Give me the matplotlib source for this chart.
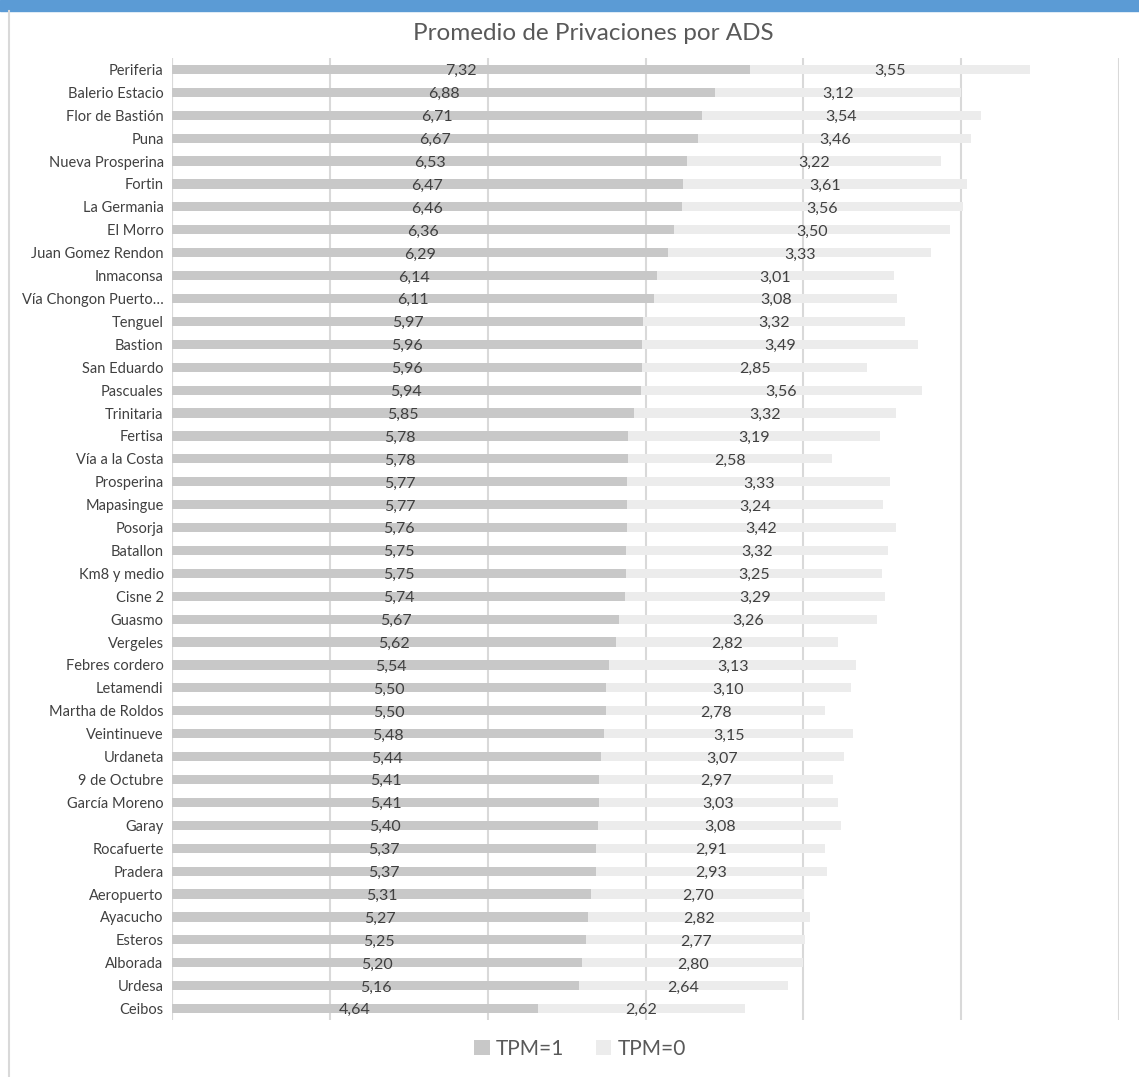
import matplotlib.pyplot as plt
import matplotlib.lines as mlines
import numpy as np

plt.rcParams['font.family'] = ['Lato', 'DejaVu Sans']

ads = ['Periferia', 'Balerio Estacio', 'Flor de Bastión', 'Puna', 'Nueva Prosperina',
       'Fortin', 'La Germania', 'El Morro', 'Juan Gomez Rendon', 'Inmaconsa',
       'Vía Chongon Puerto…', 'Tenguel', 'Bastion', 'San Eduardo', 'Pascuales',
       'Trinitaria', 'Fertisa', 'Vía a la Costa', 'Prosperina', 'Mapasingue',
       'Posorja', 'Batallon', 'Km8 y medio', 'Cisne 2', 'Guasmo', 'Vergeles',
       'Febres cordero', 'Letamendi', 'Martha de Roldos', 'Veintinueve', 'Urdaneta',
       '9 de Octubre', 'García Moreno', 'Garay', 'Rocafuerte', 'Pradera',
       'Aeropuerto', 'Ayacucho', 'Esteros', 'Alborada', 'Urdesa', 'Ceibos']
tpm1 = [7.32, 6.88, 6.71, 6.67, 6.53, 6.47, 6.46, 6.36, 6.29, 6.14, 6.11, 5.97,
        5.96, 5.96, 5.94, 5.85, 5.78, 5.78, 5.77, 5.77, 5.76, 5.75, 5.75, 5.74,
        5.67, 5.62, 5.54, 5.50, 5.50, 5.48, 5.44, 5.41, 5.41, 5.40, 5.37, 5.37,
        5.31, 5.27, 5.25, 5.20, 5.16, 4.64]
tpm0 = [3.55, 3.12, 3.54, 3.46, 3.22, 3.61, 3.56, 3.50, 3.33, 3.01, 3.08, 3.32,
        3.49, 2.85, 3.56, 3.32, 3.19, 2.58, 3.33, 3.24, 3.42, 3.32, 3.25, 3.29,
        3.26, 2.82, 3.13, 3.10, 2.78, 3.15, 3.07, 2.97, 3.03, 3.08, 2.91, 2.93,
        2.70, 2.82, 2.77, 2.80, 2.64, 2.62]

dark = '#c8c8c8'
light = '#ececec'
txt = '#404040'

fig = plt.figure(figsize=(11.39, 10.77), dpi=100)
ax = fig.add_axes([172/1139, 1 - 1020/1077, (1119-172)/1139, (1020-58)/1077])

y = np.arange(len(ads))
b1 = ax.barh(y, tpm1, height=0.4, color=dark, label='TPM=1', zorder=2)
b2 = ax.barh(y, tpm0, left=tpm1, height=0.4, color=light, label='TPM=0', zorder=2)

for i in range(len(ads)):
    ax.text(tpm1[i] / 2, y[i] + 0.08, f'{tpm1[i]:.2f}'.replace('.', ','),
            ha='center', va='center', fontsize=11.5, color=txt, zorder=3)
    ax.text(tpm1[i] + tpm0[i] / 2, y[i] + 0.08, f'{tpm0[i]:.2f}'.replace('.', ','),
            ha='center', va='center', fontsize=11.5, color=txt, zorder=3)

ax.set_xlim(0, 12)
ax.set_ylim(len(ads) - 0.5, -0.5)
ax.set_xticks(np.arange(0, 13, 2))
ax.set_xticklabels([])
ax.tick_params(axis='x', length=0)
ax.tick_params(axis='y', length=0, labelsize=10.5, labelcolor=txt, pad=6)
ax.set_yticks(y)
ax.set_yticklabels(ads)
ax.grid(axis='x', color='#d9d9d9', linewidth=1.5, zorder=0)
for s in ax.spines.values():
    s.set_visible(False)
ax.axvline(0, color='#d9d9d9', linewidth=1.5, zorder=1)

fig.text(593/1139, 1 - 33/1077, 'Promedio de Privaciones por ADS',
         ha='center', va='center', fontsize=17.5, color='#595959')

fig.legend(handles=[b1, b2], loc='center', bbox_to_anchor=(580/1139, 1 - 1049/1077),
           ncol=2, frameon=False, fontsize=15, handlelength=0.75, handleheight=0.75,
           handletextpad=0.3, columnspacing=1.5, labelcolor='#595959')

# blue band and left border of the chart area
fig.patches.append(plt.Rectangle((0, 1 - 11/1077), 1, 11/1077, transform=fig.transFigure,
                                 color='#5b9bd5', zorder=0))
fig.lines.append(mlines.Line2D([9/1139, 9/1139], [0, 1 - 11/1077], transform=fig.transFigure,
                               color='#d9d9d9', linewidth=1.5))

fig.savefig('out.png', dpi=100)
